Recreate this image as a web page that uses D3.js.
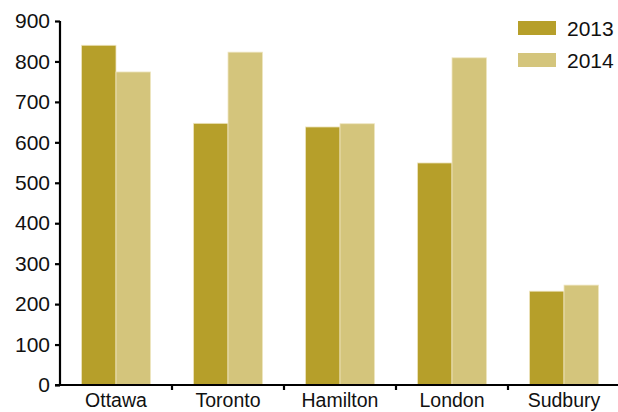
<!DOCTYPE html>
<html>
<head>
<meta charset="utf-8">
<script src="https://cdn.jsdelivr.net/npm/d3@7"></script>
<style>
  body { margin: 0; background: #fff; }
  svg { display: block; }
</style>
</head>
<body>
<div id="root"></div>
<script>
// data
const cities = ["Ottawa", "Toronto", "Hamilton", "London", "Sudbury"];
const years = ["2013", "2014"];
const values2013 = [840, 647, 638, 549, 232];
const values2014 = [774, 823, 646, 809, 247];
const yTicks = [0, 100, 200, 300, 400, 500, 600, 700, 800, 900];
const colors = ["#b69f2a", "#d4c57c"];

// dimensions
let margin = { top: 21, right: -2, bottom: 27, left: 60 },
  width = 618 - margin.left - margin.right,
  height = 412 - margin.top - margin.bottom;

let svg = d3
  .select("#root")
  .append("svg")
  .attr("width", 618)
  .attr("height", 412)
  .append("g")
  .attr("transform", "translate(" + margin.left + "," + margin.top + ")");

// scales
let x = d3.scaleBand().domain(cities).range([0, width]).paddingInner(0).paddingOuter(0);
let x1 = d3.scaleBand().domain(years).range([0, x.bandwidth()]).paddingInner(0).paddingOuter(0.62);
let y = d3.scaleLinear().domain([0, 900]).range([height, 0]);

let rows = cities.map((c, i) => ({ city: c, vals: [values2013[i], values2014[i]] }));

// bars
let groups = svg.selectAll(".grp")
  .data(rows)
  .enter()
  .append("g")
  .attr("transform", (d) => "translate(" + x(d.city) + ",0)");

groups.selectAll("rect")
  .data((d) => d.vals.map((v, i) => ({ year: years[i], v: v, i: i })))
  .enter()
  .append("rect")
  .attr("x", (d) => x1(d.year))
  .attr("width", x1.bandwidth())
  .attr("y", (d) => y(d.v))
  .attr("height", (d) => y(0) - y(d.v))
  .attr("fill", (d) => colors[d.i])
  .attr("stroke", "#efe6c2")
  .attr("stroke-width", 0.8);

// y axis
let yAxis = svg.append("g")
  .call(d3.axisLeft(y).tickValues(yTicks).tickSize(5).tickPadding(5));
yAxis.select(".domain").attr("stroke-width", 2.2).attr("d", "M0," + (height + 1) + "V0");
yAxis.selectAll(".tick line").attr("stroke-width", 2.2);
yAxis.selectAll("text")
  .attr("font-family", "Liberation Sans, Arial, sans-serif")
  .attr("font-size", 21)
  .attr("fill", "#111");

// x axis
let xAxis = svg.append("g")
  .attr("transform", "translate(0," + height + ")");
xAxis.append("line")
  .attr("x1", -5).attr("x2", width)
  .attr("stroke", "#000").attr("stroke-width", 2.2);
xAxis.selectAll(".sep")
  .data(cities.slice(1))
  .enter()
  .append("line")
  .attr("x1", (d) => x(d)).attr("x2", (d) => x(d))
  .attr("y1", 0).attr("y2", 5)
  .attr("stroke", "#000").attr("stroke-width", 2.2);
xAxis.selectAll(".lbl")
  .data(cities)
  .enter()
  .append("text")
  .attr("x", (d) => x(d) + x.bandwidth() / 2)
  .attr("y", 22)
  .attr("text-anchor", "middle")
  .attr("font-family", "Liberation Sans, Arial, sans-serif")
  .attr("font-size", 19.5)
  .attr("fill", "#111")
  .text((d) => d);

// legend
let legend = svg.append("g").attr("transform", "translate(458,0)");
years.forEach((yr, i) => {
  legend.append("rect")
    .attr("x", 0).attr("y", i * 32)
    .attr("width", 38).attr("height", 14)
    .attr("fill", colors[i]);
  legend.append("text")
    .attr("x", 49).attr("y", i * 32 + 15)
    .attr("font-family", "Liberation Sans, Arial, sans-serif")
    .attr("font-size", 21)
    .attr("fill", "#111")
    .text(yr);
});
</script>
</body>
</html>
